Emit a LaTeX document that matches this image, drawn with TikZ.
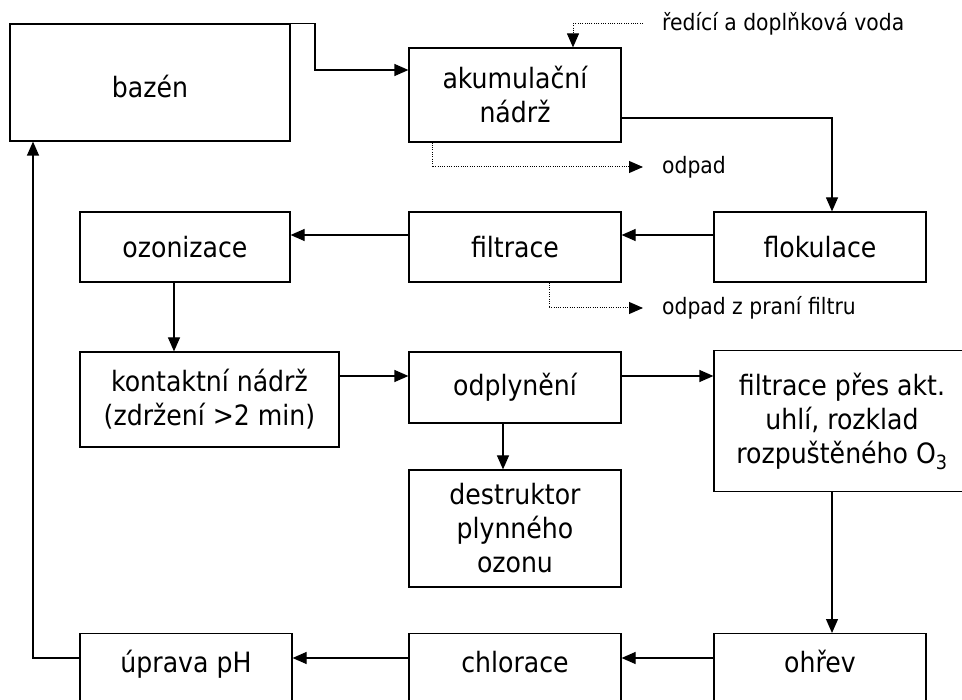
\documentclass[tikz,border=0pt]{standalone}
\usepackage{fontspec}
\setmainfont{DejaVu Sans Condensed}
\usetikzlibrary{arrows.meta}
\newcommand\boxfont{\fontsize{28}{34}\selectfont}
\newcommand\lblfont{\fontsize{22.6}{27}\selectfont}
\begin{document}
\begin{tikzpicture}[x=1pt,y=-1pt,
  box/.style={draw, line width=1.2pt, minimum width=212pt, align=center, inner sep=0pt, font=\boxfont},
  openbox/.style={box, anchor=north, minimum height=0pt, text height=21pt, text depth=90pt, inner ysep=18pt},
  lbl/.style={font=\lblfont, inner sep=0pt, anchor=west},
  conn/.style={line width=1.2pt, -{Triangle[length=14pt,width=12pt]}},
  dotconn/.style={line width=1pt, dash pattern=on 1pt off 1.3pt, -{Triangle[length=14pt,width=12pt]}}]
\useasboundingbox (0,0) rectangle (962,700);
\clip (0,0) rectangle (962,700);
% boxes
\node[box, minimum width=280pt, minimum height=117pt, text height=31pt, text depth=0pt] (bazen) at (150,82.5) {bazén};
\node[box, minimum height=94pt] (akum) at (515,95) {akumulační\\nádrž};
\node[box, minimum height=70pt] (flok) at (820,247) {flokulace};
\node[box, minimum height=70pt] (filt) at (515,247) {filtrace};
\node[box, minimum width=210pt, minimum height=70pt] (ozon) at (185,247) {ozonizace};
\node[box, minimum width=259pt, minimum height=95pt] (kont) at (209.5,399.5) {kontaktní nádrž\\(zdržení >2 min)};
\node[box, minimum height=71pt] (odpl) at (515,387.5) {odplynění};
\node[box, minimum width=256pt, minimum height=141pt] (fpres) at (842,421) {filtrace přes akt.\\uhlí, rozklad\\rozpuštěného O\textsubscript{3}};
\node[box, minimum height=117pt] (destr) at (515,528.5) {destruktor\\plynného\\ozonu};
\node[openbox] (ohrev) at (820,633) {ohřev};
\node[openbox] (chlor) at (515,633) {chlorace};
\node[openbox] (uprava) at (186,633) {úprava pH};
% labels
\node[lbl] (redici) at (662,24) {ředící a doplňková voda};
\node[lbl] (odpad) at (662,167) {odpad};
\node[lbl] (odpadf) at (662,308) {odpad z praní filtru};
% helper coordinates
\coordinate (c1) at (315,70);
\coordinate (rd) at (643,24);
\coordinate (ax) at (573,0);
\coordinate (ox) at (432,0);
\coordinate (od) at (643,167);
\coordinate (a1) at (0,118);
\coordinate (xr) at (832,0);
\coordinate (r2) at (0,235);
\coordinate (fx) at (549,0);
\coordinate (op) at (643,308);
\coordinate (xl) at (174,0);
\coordinate (r3) at (0,376);
\coordinate (xm) at (503,0);
\coordinate (r4) at (0,658);
\coordinate (xb) at (33,0);
% connectors
\draw[conn] (bazen.north east) -- (bazen.north east -| c1) -- (c1) -- (akum.west |- c1);
\draw[dotconn] (rd) -| (akum.north -| ax);
\draw[dotconn] (akum.south -| ox) |- (od);
\draw[conn] (akum.east |- a1) -| (flok.north -| xr);
\draw[conn] (flok.west |- r2) -- (filt.east |- r2);
\draw[conn] (filt.west |- r2) -- (ozon.east |- r2);
\draw[dotconn] (filt.south -| fx) |- (op);
\draw[conn] (ozon.south -| xl) -- (kont.north -| xl);
\draw[conn] (kont.east |- r3) -- (odpl.west |- r3);
\draw[conn] (odpl.east |- r3) -- (fpres.west |- r3);
\draw[conn] (odpl.south -| xm) -- (destr.north -| xm);
\draw[conn] (fpres.south -| xr) -- (ohrev.north -| xr);
\draw[conn] (ohrev.west |- r4) -- (chlor.east |- r4);
\draw[conn] (chlor.west |- r4) -- (uprava.east |- r4);
\draw[conn] (uprava.west |- r4) -| (bazen.south -| xb);
\end{tikzpicture}
\end{document}
